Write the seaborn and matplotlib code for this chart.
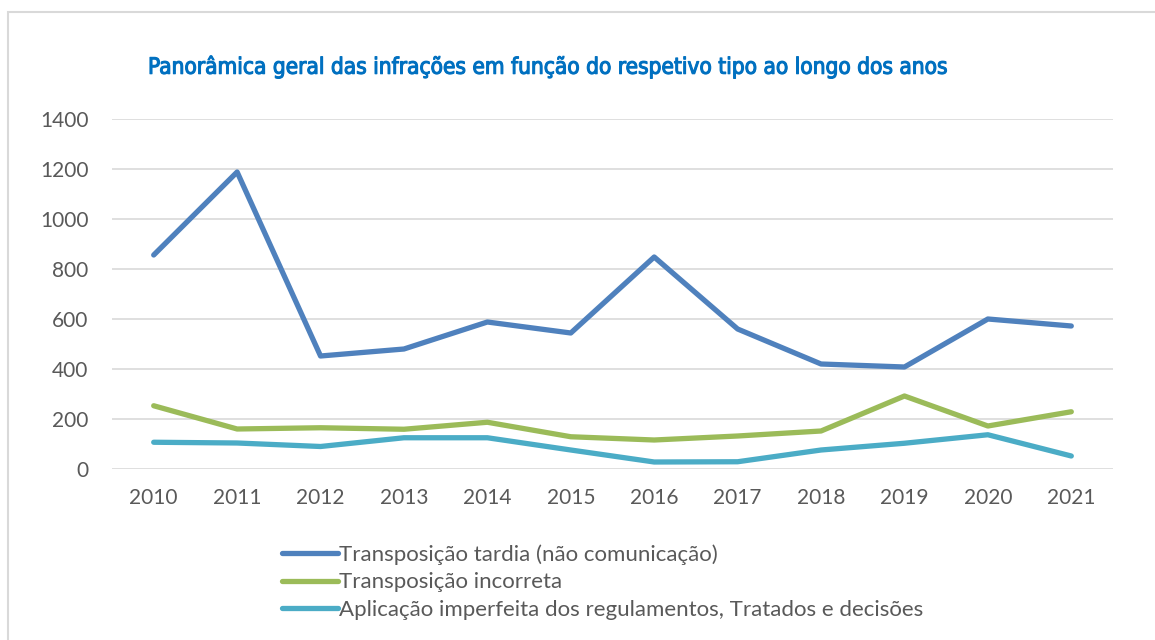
import pandas as pd
import seaborn as sns
import matplotlib.pyplot as plt
import matplotlib.patheffects as pe
from matplotlib.patches import Rectangle

anos = ['2010', '2011', '2012', '2013', '2014', '2015', '2016', '2017', '2018', '2019', '2020', '2021']
tardia = [856, 1188, 452, 480, 588, 544, 848, 560, 420, 408, 600, 572]
incorreta = [253, 160, 165, 159, 187, 129, 116, 132, 152, 292, 172, 229]
aplicacao = [107, 104, 90, 125, 125, 76, 28, 29, 76, 103, 137, 52]

series = ['Transposição tardia (não comunicação)',
          'Transposição incorreta',
          'Aplicação imperfeita dos regulamentos, Tratados e decisões']
cores = ['#4F81BD', '#9BBB59', '#4BACC6']

df = pd.DataFrame({
    'ano': anos * 3,
    'valor': tardia + incorreta + aplicacao,
    'tipo': [series[0]] * 12 + [series[1]] * 12 + [series[2]] * 12,
})

sns.set_style('white')
plt.rcParams['font.family'] = ['Lato', 'DejaVu Sans']

fig = plt.figure(figsize=(11.55, 6.4), dpi=100)
ax = fig.add_axes([112 / 1155, 1 - 469 / 640, (1113 - 112) / 1155, (469 - 119) / 640])

sns.lineplot(data=df, x='ano', y='valor', hue='tipo', palette=cores,
             linewidth=3.8, ax=ax, legend=False, sort=False)
for ln in ax.lines:
    ln.set_solid_capstyle('round')
    ln.set_solid_joinstyle('round')

ax.set_xlim(-0.5, 11.5)
ax.set_ylim(0, 1400)
ax.set_yticks(range(0, 1401, 200))
ax.grid(axis='y', color='#D9D9D9', linewidth=1.2)
ax.set_axisbelow(True)
for s in ax.spines.values():
    s.set_visible(False)
ax.tick_params(axis='both', length=0, labelsize=15, labelcolor='#595959')
ax.tick_params(axis='x', pad=14)
ax.tick_params(axis='y', pad=17)
ax.set_xlabel('')
ax.set_ylabel('')

fig.text(148 / 1155, 1 - 67 / 640,
         'Panorâmica geral das infrações em função do respetivo tipo ao longo dos anos',
         ha='left', va='center', fontsize=16.2, color='#0070C0',
         family='DejaVu Sans', fontstretch='condensed',
         path_effects=[pe.withStroke(linewidth=0.8, foreground='#0070C0')])

handles = [plt.Line2D([], [], color=c, linewidth=3.8, solid_capstyle='round') for c in cores]
fig.legend(handles, series, loc='upper left', bbox_to_anchor=(282 / 1155, 1 - 544 / 640),
           frameon=False, fontsize=16, handlelength=2.5, handletextpad=0.05,
           labelspacing=0.35, borderaxespad=0, borderpad=0, labelcolor='#595959')

fig.patches.append(Rectangle((8 / 1155, -0.1), 1.2, 1.1 - 12 / 640, transform=fig.transFigure,
                             fill=False, edgecolor='#D9D9D9', linewidth=1.5))

fig.savefig('out.png', dpi=100)
